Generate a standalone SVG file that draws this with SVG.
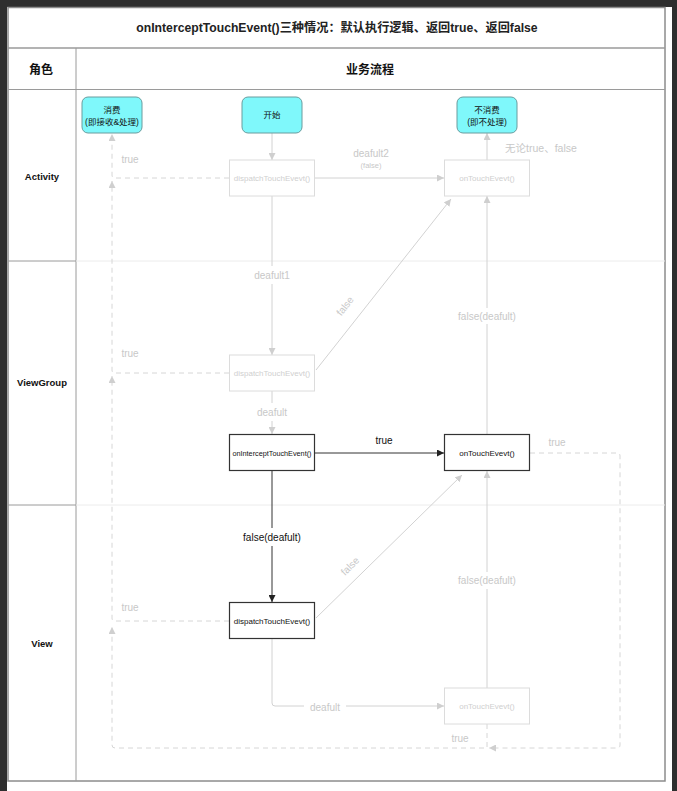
<svg xmlns="http://www.w3.org/2000/svg" width="677" height="791" viewBox="0 0 677 791">
<style>
text{font-family:"Liberation Sans","Noto Sans CJK SC",sans-serif;text-anchor:middle;dominant-baseline:central}
.frame{fill:none;stroke:#8c8c8c;stroke-width:1.5}
.grid{stroke:#9a9a9a;stroke-width:1}
.lane{stroke:#ececec;stroke-width:1}
.start{fill:#7ff8fb;stroke:#6a9c9e;stroke-width:1}
.fade{fill:#fff;stroke:#dcdcdc;stroke-width:1}
.dark{fill:#fff;stroke:#333;stroke-width:1.2}
.nt{font-size:8px;fill:#111}
.ft{font-size:8px;fill:#cfcfcf}
.ct{font-size:8.5px;fill:#111}
.lc{fill:none;stroke:#d2d2d2;stroke-width:1}
.dc{fill:none;stroke:#d6d6d6;stroke-width:1;stroke-dasharray:5 4}
.bc{fill:none;stroke:#333;stroke-width:1}
.lbl{font-size:10px;fill:#c8c8c8}
.blbl{font-size:10px;fill:#111}
.hd{font-size:12px;font-weight:bold;fill:#111}
.role{font-size:9.5px;font-weight:bold;fill:#111}
</style>
<defs>
<marker id="ag" viewBox="0 0 10 10" refX="10" refY="5" markerWidth="7" markerHeight="7" markerUnits="userSpaceOnUse" orient="auto"><path d="M0,0 L10,5 L0,10 z" fill="#cfcfcf"/></marker>
<marker id="ab" viewBox="0 0 10 10" refX="10" refY="5" markerWidth="7" markerHeight="7" markerUnits="userSpaceOnUse" orient="auto"><path d="M0,0 L10,5 L0,10 z" fill="#222"/></marker>
</defs>
<rect x="0" y="0" width="677" height="791" fill="#fff"/>
<rect x="0" y="0" width="677" height="7" fill="#2e2e2e"/>
<rect x="0" y="0" width="7" height="791" fill="#2e2e2e"/>
<rect x="672" y="0" width="5" height="791" fill="#2e2e2e"/>
<g id="table">
<rect class="frame" x="8" y="7.5" width="657" height="773.5"/>
<line class="grid" x1="8" y1="48" x2="665" y2="48" style="stroke-width:1.5"/>
<line class="grid" x1="8" y1="89.5" x2="665" y2="89.5"/>
<line class="grid" x1="76" y1="48" x2="76" y2="781"/>
<line class="grid" x1="8" y1="261" x2="76" y2="261"/>
<line class="grid" x1="8" y1="505" x2="76" y2="505"/>
<line class="lane" x1="76" y1="261" x2="665" y2="261"/>
<line class="lane" x1="76" y1="505" x2="665" y2="505"/>
<text x="337" y="28" style="font-size:12.2px;font-weight:bold;fill:#222">onInterceptTouchEvent()三种情况：默认执行逻辑、返回true、返回false</text>
<text class="hd" x="41" y="70">角色</text>
<text class="hd" x="370" y="70">业务流程</text>
<text class="role" x="42" y="176">Activity</text>
<text class="role" x="42" y="382">ViewGroup</text>
<text class="role" x="42" y="643">View</text>
</g>
<g id="connectors">
<path class="lc" d="M272,133 V160" marker-end="url(#ag)"/>
<path class="lc" d="M314,178 H444" marker-end="url(#ag)"/>
<path class="lc" d="M487,160 V133" marker-end="url(#ag)"/>
<path class="lc" d="M272,196 V266 M272,284 V355" marker-end="url(#ag)"/>
<path class="lc" d="M316,370 L451,199" marker-end="url(#ag)"/>
<path class="lc" d="M272,391 V403 M272,421 V434" marker-end="url(#ag)"/>
<path class="lc" d="M487,434 V324 M487,308 V196" marker-end="url(#ag)"/>
<path class="bc" d="M314,453 H444" marker-end="url(#ab)"/>
<path class="bc" d="M272,471 V528 M272,546 V602" marker-end="url(#ab)"/>
<path class="lc" d="M316,618 L462,475" marker-end="url(#ag)"/>
<path class="lc" d="M272,639 V703 Q272,706 275,706 H304 M346,706 H444" marker-end="url(#ag)"/>
<path class="lc" d="M487,688 V589 M487,572 V471" marker-end="url(#ag)"/>
<path class="dc" d="M229,178 H115 Q112,178 112,175 V134" marker-end="url(#ag)"/>
<path class="dc" d="M229,373 H115 Q112,373 112,370 V181" marker-end="url(#ag)"/>
<path class="dc" d="M229,621 H115 Q112,621 112,618 V376" marker-end="url(#ag)"/>
<path class="dc" d="M530,453 H617 Q620,453 620,456 V745 Q620,748 617,748 H489" marker-end="url(#ag)"/>
<path class="dc" d="M487,724 V748 H115 Q112,748 112,745 V627" marker-end="url(#ag)"/>
<text class="lbl" x="371" y="153">deafult2</text>
<text class="lbl" x="371" y="165" style="font-size:7.5px">(false)</text>
<text class="lbl" x="541" y="148" style="font-size:10.5px">无论true、false</text>
<text class="lbl" x="130" y="159">true</text>
<text class="lbl" x="272" y="275">deafult1</text>
<text class="lbl" x="130" y="353">true</text>
<text class="lbl" x="345" y="306" transform="rotate(-52 345 306)">false</text>
<text class="lbl" x="272" y="412">deafult</text>
<text class="lbl" x="487" y="316">false(deafult)</text>
<text class="blbl" x="384" y="440">true</text>
<text class="lbl" x="557" y="442">true</text>
<text class="blbl" x="272" y="537">false(deafult)</text>
<text class="lbl" x="350" y="566" transform="rotate(-45 350 566)">false</text>
<text class="lbl" x="487" y="580">false(deafult)</text>
<text class="lbl" x="130" y="607">true</text>
<text class="lbl" x="325" y="707">deafult</text>
<text class="lbl" x="460" y="738">true</text>
</g>
<g id="n-consume">
<rect class="start" x="82" y="97" width="60" height="36" rx="6"/>
<text class="ct" x="112" y="110">消费</text>
<text class="ct" x="112" y="122">(即接收&amp;处理)</text>
</g>
<g id="n-start">
<rect class="start" x="242" y="97" width="60" height="36" rx="6"/>
<text class="ct" x="272" y="115">开始</text>
</g>
<g id="n-noconsume">
<rect class="start" x="457" y="97" width="60" height="36" rx="6"/>
<text class="ct" x="487" y="110">不消费</text>
<text class="ct" x="487" y="122">(即不处理)</text>
</g>
<g id="n-act-dispatch">
<rect class="fade" x="229.5" y="160" width="85" height="36"/>
<text class="ft" x="272" y="178">dispatchTouchEvevt()</text>
</g>
<g id="n-act-ontouch">
<rect class="fade" x="444.5" y="160" width="85" height="36"/>
<text class="ft" x="487" y="178">onTouchEvevt()</text>
</g>
<g id="n-vg-dispatch">
<rect class="fade" x="229.5" y="355" width="85" height="36"/>
<text class="ft" x="272" y="373">dispatchTouchEvevt()</text>
</g>
<g id="n-vg-intercept">
<rect class="dark" x="229.5" y="434.5" width="85" height="36"/>
<text class="nt" x="272" y="453" textLength="79" lengthAdjust="spacingAndGlyphs">onInterceptTouchEvent()</text>
</g>
<g id="n-vg-ontouch">
<rect class="dark" x="444.5" y="434.5" width="85" height="36"/>
<text class="nt" x="487" y="453">onTouchEvevt()</text>
</g>
<g id="n-view-dispatch">
<rect class="dark" x="229.5" y="602.5" width="85" height="36"/>
<text class="nt" x="272" y="621">dispatchTouchEvevt()</text>
</g>
<g id="n-view-ontouch">
<rect class="fade" x="444.5" y="688" width="85" height="36"/>
<text class="ft" x="487" y="706">onTouchEvevt()</text>
</g>
</svg>
